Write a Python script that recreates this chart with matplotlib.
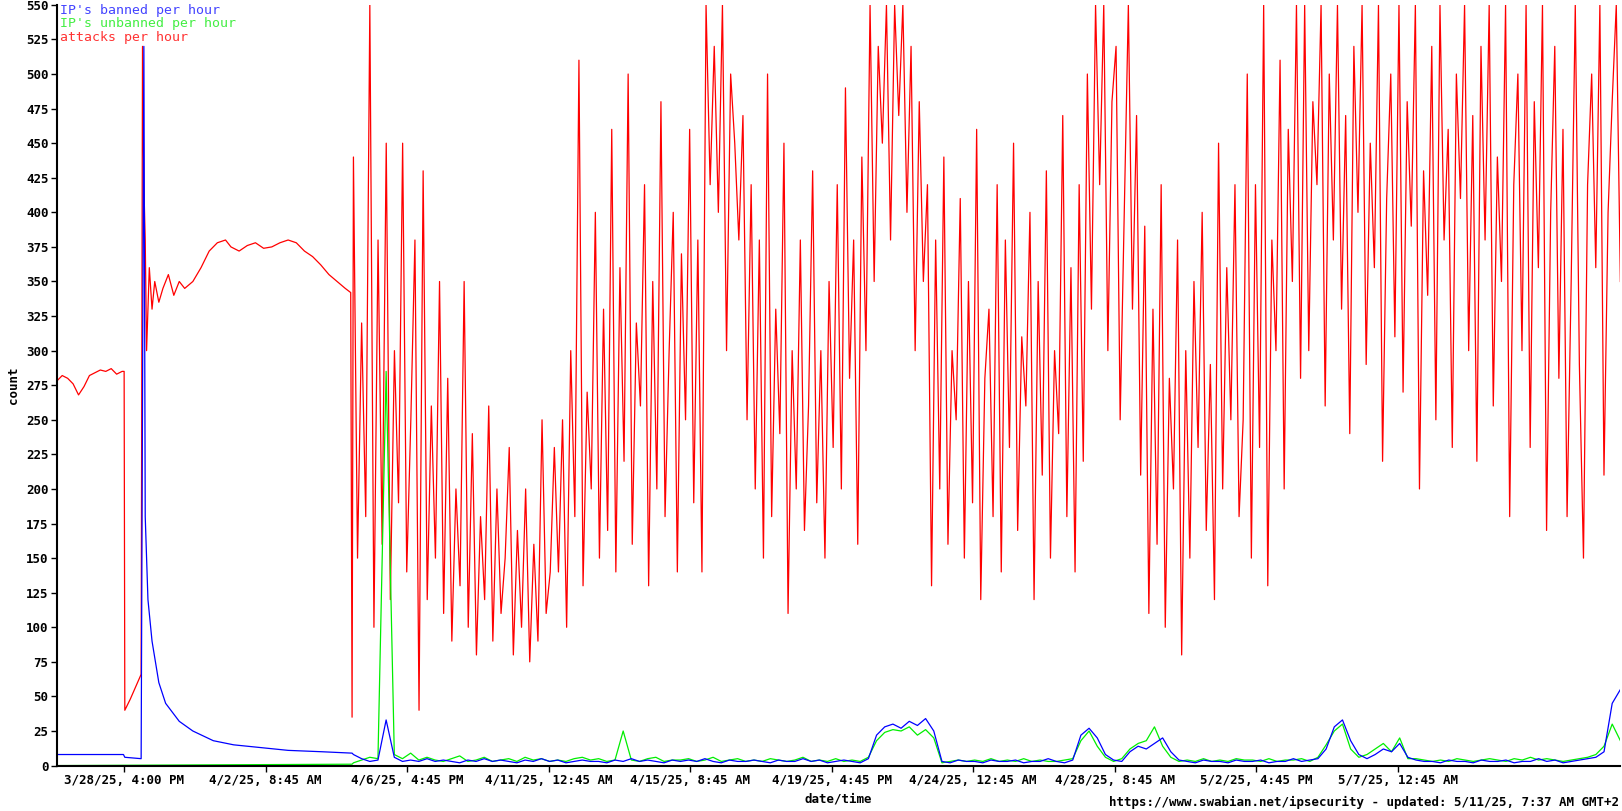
import numpy as np
import matplotlib
matplotlib.use("Agg")
import matplotlib.pyplot as plt

# x in hours since start of chart
tick_hours = [49.4, 153.4, 257.4, 361.4, 465.4, 569.4, 673.4, 777.4, 881.4, 985.4]
tick_labels = ["3/28/25, 4:00 PM", "4/2/25, 8:45 AM", "4/6/25, 4:45 PM", "4/11/25, 12:45 AM",
               "4/15/25, 8:45 AM", "4/19/25, 4:45 PM", "4/24/25, 12:45 AM", "4/28/25, 8:45 AM",
               "5/2/25, 4:45 PM", "5/7/25, 12:45 AM"]
yticks = list(range(0, 551, 25))

red_early_h = [0, 4, 8, 12, 16, 20, 24, 28, 32, 36, 40, 44, 48, 49.5, 50, 54, 58, 62, 63, 64, 65, 66, 68, 70, 72,
               75, 78, 82, 86, 90, 94, 100, 106, 112, 118, 124, 128, 134, 140, 146, 152, 158, 164, 170, 176,
               182, 188, 194, 200, 206, 212, 216, 217]
red_early_v = [278, 282, 280, 276, 268, 274, 282, 284, 286, 285, 287, 283, 285, 285, 40, 48, 57, 66, 520, 420, 380, 300, 360, 330,
               350, 335, 345, 355, 340, 350, 345, 350, 360, 372, 378, 380, 375, 372, 376, 378, 374, 375, 378, 380,
               378, 372, 368, 362, 355, 350, 345, 342, 35]
red_noisy = [440,150,320,180,550,100,380,160,450,120,300,190,450,140,250,380,40,
             430,120,260,150,350,110,280,90,200,130,350,100,240,80,180,120,260,90,200,110,150,230,80,170,100,200,75,160,90,250,110,140,230,
             140,250,100,300,180,510,130,270,200,400,150,330,170,460,140,360,220,500,160,320,260,420,130,350,200,480,180,300,400,140,370,250,460,190,380,140,
             550,420,520,400,550,300,500,450,380,470,
             250,420,200,380,150,500,180,330,240,450,110,300,200,380,170,260,430,190,300,150,350,230,420,200,490,280,380,160,440,300,
             550,350,520,450,550,380,550,470,550,400,520,300,480,350,420,
             130,380,200,440,160,300,250,410,150,350,190,460,120,280,330,180,420,140,380,230,450,170,310,260,400,120,350,210,430,150,300,240,470,180,360,140,420,220,500,330,
             550,420,550,300,480,520,250,400,550,330,470,210,390,
             110,330,160,420,100,280,200,380,80,300,150,350,230,400,170,290,120,450,200,360,250,420,180,
             250,500,150,420,230,550,130,380,300,510,200,460,350,550,280,
             550,300,480,420,550,260,500,380,550,330,470,240,520,400,550,290,450,360,550,220,410,500,310,550,270,480,390,550,200,430,340,520,250,550,380,460,230,500,410,550,300,470,220,520,380,550,260,440,350,550,180,420,500,300,550,230,480,360,550,170,400,520,280,460,180,350,550,290,150,420,500,360,550,210,400,480,550,350]

blue_early_h = [0, 49, 50, 62, 63, 64, 65, 67, 70, 75, 80, 90, 100, 115, 130, 150, 170, 195, 217]
blue_early_v = [8, 8, 6, 5, 260, 520, 180, 120, 90, 60, 45, 32, 25, 18, 15, 13, 11, 10, 9]
blue_late = [8,5,3,4,33,6,3,4,3,5, 3,4,3,2,4,3,5,3,4,3, 2,4,3,5,3,4,2,3,4,3, 3,2,4,3,5,3,4,3,2,4,
             3,4,3,5,3,2,4,3,3,4, 3,2,4,3,3,5,3,4,2,3, 4,3,2,5,22,28,30,27,32,29, 34,25,3,2,4,3,3,2,4,3,
             3,4,2,3,3,5,3,2,4,22, 27,20,8,4,3,10,14,12,16,20, 10,4,3,2,4,3,3,2,4,3, 3,4,2,3,3,5,3,4,5,12,
             28,33,18,8,5,8,12,10,16,6, 4,3,3,2,4,3,3,2,4,3, 3,4,2,3,3,5,3,4,2,3, 4,5,6,10,45,55]
green_early_h = [0, 217]
green_early_v = [0, 1]
green_late = [2,4,6,5,285,8,5,9,4,6, 4,3,5,7,3,4,6,3,4,5, 3,6,4,5,3,4,3,5,6,4, 5,3,4,25,4,3,5,6,3,4,
              4,5,3,4,6,3,4,5,3,4, 3,5,4,3,4,6,3,4,3,5, 3,4,3,6,18,24,26,25,28,22, 26,20,2,3,4,3,4,3,5,3,
              4,3,5,3,4,3,3,4,5,18, 25,14,6,3,5,12,16,18,28,14, 6,3,4,3,5,3,4,3,5,4, 4,3,5,3,4,4,5,3,6,15,
              25,30,12,6,8,12,16,10,20,5, 5,4,3,4,3,5,4,3,4,5, 4,3,5,4,6,4,5,4,3,4, 5,6,8,14,30,18]

fig = plt.figure(figsize=(16.22, 8.11), dpi=100)
ax = fig.add_axes([0.035, 0.056, 0.964, 0.938])
font = dict(family="DejaVu Sans Mono", weight="bold", size=9)

red_h = np.concatenate([red_early_h, np.linspace(218, 1149, len(red_noisy))])
red_v = np.concatenate([red_early_v, red_noisy])
blue_h = np.concatenate([blue_early_h, np.linspace(218, 1149, len(blue_late))])
blue_v = np.concatenate([blue_early_v, blue_late])
green_h = np.concatenate([green_early_h, np.linspace(218, 1149, len(green_late))])
green_v = np.concatenate([green_early_v, green_late])

ax.plot(red_h, red_v, color="#ff0000", lw=0.9)
ax.plot(green_h, green_v, color="#00ee00", lw=0.9)
ax.plot(blue_h, blue_v, color="#0000ff", lw=0.9)

ax.set_xlim(0, 1149)
ax.set_ylim(0, 550)
for s in ["top", "right"]:
    ax.spines[s].set_visible(False)
ax.spines["left"].set_linewidth(1.5)
ax.spines["bottom"].set_linewidth(1.5)
ax.set_yticks(yticks)
ax.set_yticklabels([str(v) for v in yticks], **font)
ax.set_xticks(tick_hours)
ax.set_xticklabels(tick_labels, **font)
ax.tick_params(length=4, width=1, pad=2)
ax.set_ylabel("count", **font)
ax.set_xlabel("date/time", labelpad=4, **font)

leg = [("IP's banned per hour", "#4444ff"), ("IP's unbanned per hour", "#44ee44"), ("attacks per hour", "#ff3333")]
for i, (t, c) in enumerate(leg):
    ax.text(0.002, 0.993 - i * 0.018, t, transform=ax.transAxes, color=c, va="center",
            family="DejaVu Sans Mono", size=9.5)
fig.text(0.998, 0.003, "https://www.swabian.net/ipsecurity - updated: 5/11/25, 7:37 AM GMT+2",
         ha="right", va="bottom", **font)
fig.savefig("out.png", dpi=100)
